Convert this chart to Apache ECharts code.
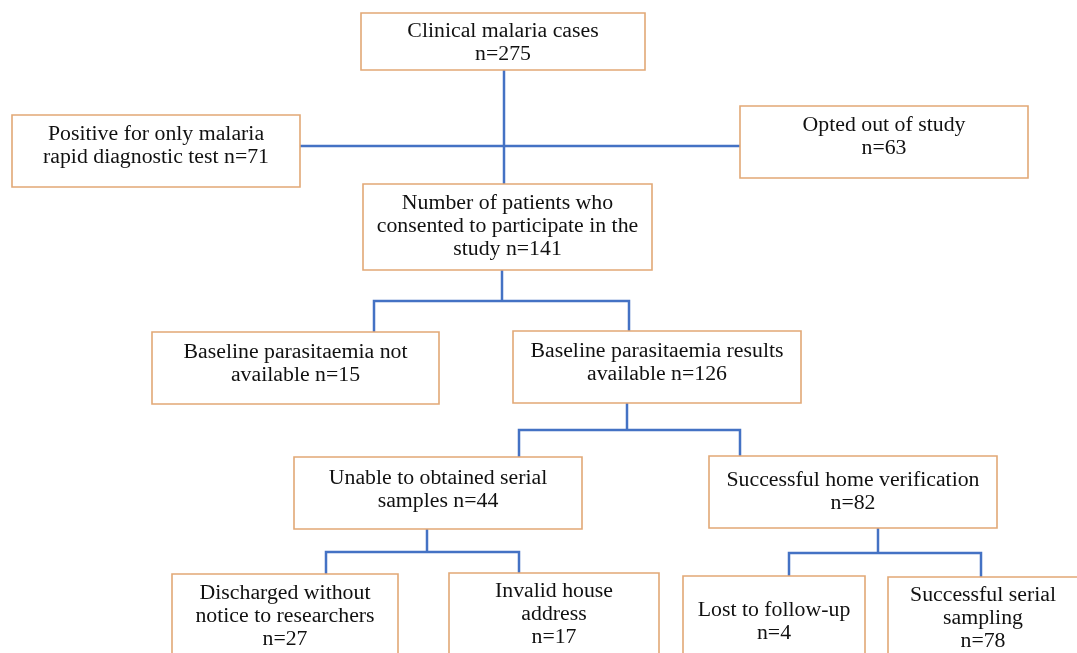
<!DOCTYPE html>
<html><head><meta charset="utf-8">
<script src="https://cdn.jsdelivr.net/npm/echarts@6/dist/echarts.min.js"></script>
<style>html,body{margin:0;padding:0;background:#fff}#c{width:1077px;height:653px}</style>
</head><body><div id="c"></div>
<script>
// ---- data ----
const stepLabels = [
  ["Clinical malaria cases", "n={n}"],
  ["Positive for only malaria", "rapid diagnostic test n={n}"],
  ["Opted out of study", "n={n}"],
  ["Number of patients who", "consented to participate in the", "study n={n}"],
  ["Baseline parasitaemia not", "available n={n}"],
  ["Baseline parasitaemia results", "available n={n}"],
  ["Unable to obtained serial", "samples n={n}"],
  ["Successful home verification", "n={n}"],
  ["Discharged without", "notice to researchers", "n={n}"],
  ["Invalid house", "address", "n={n}"],
  ["Lost to follow-up", "n={n}"],
  ["Successful serial", "sampling", "n={n}"]
];
const stepCounts = [275, 71, 63, 141, 15, 126, 44, 82, 27, 17, 4, 78];

// ---- layout (pixel space of the hidden axes) ----
const boxRects = [
  [361, 13, 284, 57],
  [12, 115, 288, 72],
  [740, 106, 288, 72],
  [363, 184, 289, 86],
  [152, 332, 287, 72],
  [513, 331, 288, 72],
  [294, 457, 288, 72],
  [709, 456, 288, 72],
  [172, 574, 226, 95],
  [449, 573, 210, 95],
  [683, 576, 182, 95],
  [888, 577, 190, 95]
];
const firstLineY = [30, 133, 124, 202, 351, 350, 477, 479, 592, 590, 609, 594];
const connectors = [
  [[504, 70], [504, 184]],
  [[300, 146], [740, 146]],
  [[502, 270], [502, 301]],
  [[374, 332], [374, 301], [629, 301], [629, 331]],
  [[627, 403], [627, 430]],
  [[519, 457], [519, 430], [740, 430], [740, 456]],
  [[427, 529], [427, 552]],
  [[326, 574], [326, 552], [519, 552], [519, 573]],
  [[878, 528], [878, 553]],
  [[789, 576], [789, 553], [981, 553], [981, 577]]
];
const LINE_H = 23;

const chart = echarts.init(document.getElementById('c'), null, {renderer: 'canvas'});
chart.setOption({
  animation: false,
  backgroundColor: '#ffffff',
  grid: {left: 0, right: 0, top: 0, bottom: 0},
  xAxis: {type: 'value', min: 0, max: 1077, show: false},
  yAxis: {type: 'value', min: 0, max: 653, inverse: true, show: false},
  series: [
    {
      type: 'custom',
      coordinateSystem: 'cartesian2d',
      data: connectors.map((c, i) => [c[0][0], c[0][1], i]),
      renderItem: function (params, api) {
        const pts = connectors[params.dataIndex].map(p => api.coord(p));
        return {
          type: 'polyline',
          shape: {points: pts},
          style: {stroke: '#4472C4', lineWidth: 2.5, fill: null}
        };
      }
    },
    {
      type: 'custom',
      coordinateSystem: 'cartesian2d',
      data: boxRects.map((r, i) => [r[0], r[1], i]),
      renderItem: function (params, api) {
        const i = params.dataIndex;
        const r = boxRects[i];
        const p0 = api.coord([r[0], r[1]]);
        const p1 = api.coord([r[0] + r[2], r[1] + r[3]]);
        const txt = stepLabels[i].map(s => s.replace('{n}', stepCounts[i])).join('\n');
        const ty = api.coord([0, firstLineY[i]])[1] - LINE_H / 2 + 1.5;
        return {
          type: 'group',
          children: [
            {
              type: 'rect',
              shape: {x: p0[0], y: p0[1], width: p1[0] - p0[0], height: p1[1] - p0[1]},
              style: {fill: '#ffffff', stroke: '#E2A876', lineWidth: 1.6}
            },
            {
              type: 'text',
              x: (p0[0] + p1[0]) / 2,
              y: ty,
              scaleX: 1.09,
              style: {
                text: txt,
                align: 'center',
                verticalAlign: 'top',
                fontFamily: '"Liberation Serif", "Times New Roman", serif',
                fontSize: 20,
                lineHeight: LINE_H,
                fill: '#111111'
              }
            }
          ]
        };
      }
    }
  ]
});
</script>
</body></html>
